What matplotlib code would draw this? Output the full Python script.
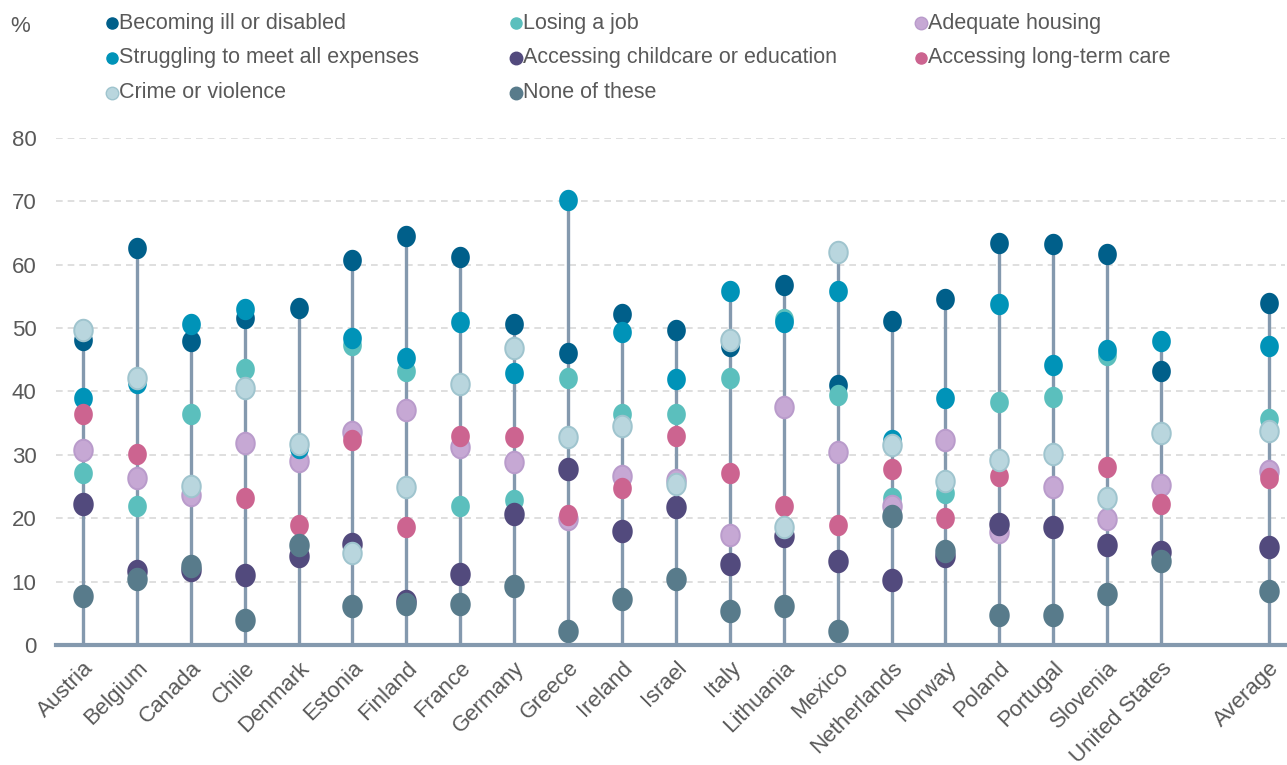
import numpy as np
import matplotlib
matplotlib.use('Agg')
import matplotlib.pyplot as plt
from matplotlib.path import Path

plt.rcParams['font.family'] = ['Liberation Sans', 'DejaVu Sans']

# data (%)
countries = ['Austria', 'Belgium', 'Canada', 'Chile', 'Denmark', 'Estonia', 'Finland',
             'France', 'Germany', 'Greece', 'Ireland', 'Israel', 'Italy', 'Lithuania',
             'Mexico', 'Netherlands', 'Norway', 'Poland', 'Portugal', 'Slovenia',
             'United States', 'Average']
nan = np.nan
ill = [48.2, 62.7, 47.9, 51.6, 53.2, 60.7, 64.6, 61.2, 50.7, 46.0, 52.3, 49.7, 47.1, 56.8,
       41.1, 51.2, 54.6, 63.5, 63.3, 61.7, 43.2, 54.0]
job = [27.1, 22.0, 36.4, 43.5, nan, 47.3, 43.2, 22.0, 22.8, 42.2, 36.4, 36.4, 42.2, 51.5,
       39.4, 23.2, 24.0, 38.3, 39.1, 45.8, nan, 35.7]
housing = [30.7, 26.4, 23.6, 31.9, 29.1, 33.6, 37.1, 31.2, 28.9, 19.9, 26.6, 26.0, 17.3, 37.6,
           30.4, 22.0, 32.4, 17.9, 25.0, 19.8, 25.3, 27.4]
struggling = [38.9, 41.4, 50.7, 53.0, 31.1, 48.4, 45.3, 50.9, 42.9, 70.2, 49.4, 42.0, 55.8, 50.9,
              55.8, 32.4, 38.9, 53.8, 44.2, 46.5, 47.9, 47.1]
childcare = [22.2, 11.6, 11.9, 11.1, 14.1, 16.0, 6.9, 11.2, 20.7, 27.8, 18.0, 21.7, 12.7, 17.2,
             13.3, 10.2, 14.0, 19.1, 18.6, 15.8, 14.7, 15.5]
ltc = [36.4, 30.2, nan, 23.2, 18.9, 32.4, 18.6, 33.0, 32.8, 20.5, 24.8, 33.0, 27.1, 22.0,
       18.9, 27.8, 20.1, 26.7, nan, 28.1, 22.2, 26.4]
crime = [49.7, 42.2, 25.1, 40.6, 31.7, 14.5, 25.0, 41.2, 46.8, 32.8, 34.5, 25.4, 48.2, 18.6,
         62.0, 31.5, 25.8, 29.2, 30.2, 23.2, 33.4, 33.8]
none = [7.8, 10.4, 12.4, 4.0, 15.8, 6.2, 6.4, 6.5, 9.3, 2.2, 7.3, 10.4, 5.3, 6.1,
        2.2, 20.4, 14.8, 4.7, 4.7, 8.1, 13.2, 8.5]

# (label, values, face, edge, size) in legend / drawing order
series = [
    ('Becoming ill or disabled', ill, '#005f8a', '#005f8a', 14),
    ('Losing a job', job, '#5bbfbd', '#5bbfbd', 14),
    ('Adequate housing', housing, '#c6a8d4', '#b99bcb', 15.5),
    ('Struggling to meet all expenses', struggling, '#0093b8', '#0093b8', 14),
    ('Accessing childcare or education', childcare, '#524a7d', '#524a7d', 15.5),
    ('Accessing long-term care', ltc, '#cc6490', '#cc6490', 14),
    ('Crime or violence', crime, '#b9d6de', '#9fc4ce', 15.5),
    ('None of these', none, '#587b8b', '#587b8b', 15.5),
]

# average sits one slot further right
xpos = np.r_[np.arange(len(countries) - 1), len(countries)]

# slightly tall ellipse marker
t = np.linspace(0, 2 * np.pi, 80)
ellipse = Path(np.column_stack([0.86 * np.cos(t), np.sin(t)]), closed=True)

fig = plt.figure(figsize=(12.87, 7.65), dpi=100)
ax = fig.add_axes([0.0435, 0.1569, 0.955, 0.6627])

tops = np.nanmax(np.array([s[1] for s in series], dtype=float), axis=0)
ax.vlines(xpos, 0, tops, color='#8499ae', lw=2.4, zorder=2)

for label, vals, fc, ec, ms in series:
    ax.plot(xpos, vals, ls='none', marker=ellipse, ms=ms, mfc=fc, mec=ec, mew=1.4,
            zorder=3, clip_on=False)

ax.set_xlim(-0.5, 22.3)
ax.set_ylim(0, 80)
ax.set_yticks(range(0, 81, 10))
ax.yaxis.grid(True, color='#d9d9d9', ls=(0, (4, 3)), lw=1.2)
ax.set_axisbelow(True)
for s in ['top', 'right', 'left']:
    ax.spines[s].set_visible(False)
ax.spines['bottom'].set_color('#8499ae')
ax.spines['bottom'].set_linewidth(3)
ax.spines['bottom'].set_zorder(4)
ax.tick_params(axis='both', length=0, labelsize=16, labelcolor='#595959')
ax.tick_params(axis='y', pad=14)
ax.set_xticks(xpos)
ax.set_xticklabels(countries, rotation=45, ha='right', va='top', rotation_mode='anchor')
ax.tick_params(axis='x', pad=9)

fig.text(0.008, 0.966, '%', fontsize=16, color='#595959', va='center')

# legend laid out in three columns
col_x = [112, 516, 921]
row_y = [23, 58, 93]
for i, (label, vals, fc, ec, ms) in enumerate(series):
    cx = col_x[i % 3] / 1287
    cy = 1 - row_y[i // 3] / 765
    ax.plot([cx], [cy], transform=fig.transFigure, marker='o', ms=8 if ms < 15 else 9,
            mfc=fc, mec=ec, mew=1, ls='none', clip_on=False)
    fig.text(cx + 7 / 1287, cy, label, fontsize=15.5, color='#595959', va='center')

fig.savefig('out.png', dpi=100)
